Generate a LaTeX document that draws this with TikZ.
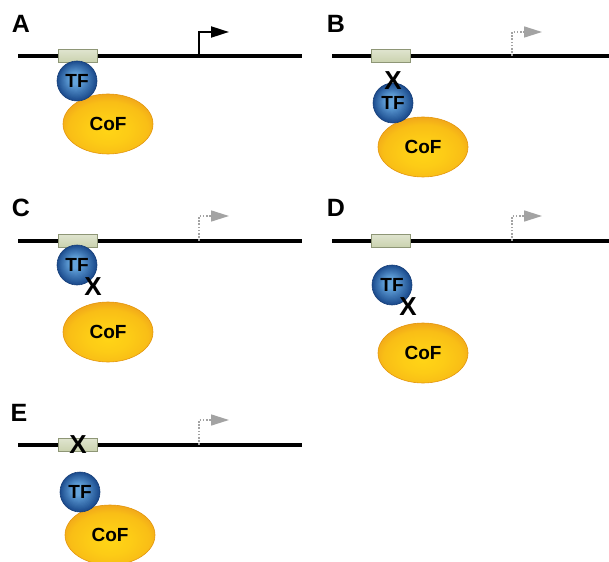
\documentclass[tikz,border=0pt]{standalone}
\usepackage{fontspec}
\setmainfont{Liberation Sans}
\usetikzlibrary{shapes.geometric,arrows.meta}
\definecolor{tfin}{HTML}{64A4DC}
\definecolor{tfout}{HTML}{1C4C8E}
\definecolor{tfedge}{HTML}{163E78}
\definecolor{cofin}{HTML}{FFD416}
\definecolor{cofmid}{HTML}{F9BE16}
\definecolor{cofout}{HTML}{EE9E1C}
\definecolor{cofedge}{HTML}{E3960E}
\definecolor{boxfill}{HTML}{CAD2AE}
\definecolor{boxedge}{HTML}{8E9676}
\definecolor{offgray}{HTML}{A3A3A3}
% soft gradient for the cofactor
\pgfdeclareradialshading{cofglow}{\pgfpoint{0bp}{-6bp}}{%
  color(0bp)=(cofin); color(12bp)=(cofin!60!cofmid); color(22bp)=(cofmid);
  color(30bp)=(cofout); color(50bp)=(cofout)}
\tikzset{
  dna/.style={line width=4pt, black},
  site/.style={rectangle, minimum width=39pt, minimum height=13pt, inner sep=0pt,
    top color=boxfill!60!white, bottom color=boxfill, draw=boxedge, line width=0.8pt},
  tf/.style={circle, minimum size=40pt, inner sep=0pt, fill=tfout},
  tfrim/.style={draw=tfedge, line width=0.6pt},
  tftext/.style={inner sep=0pt, text=black, font=\bfseries\fontsize{19}{19}\selectfont},
  cof/.style={ellipse, minimum width=90pt, minimum height=60pt, inner sep=0pt,
    shading=cofglow, draw=cofedge, line width=0.6pt, text=black,
    font=\bfseries\fontsize{19}{19}\selectfont},
  panellabel/.style={font=\bfseries\fontsize{25}{25}\selectfont, inner sep=0pt},
  block/.style={font=\bfseries\fontsize{26}{26}\selectfont, inner sep=0pt, text=black},
  promon/.style={line width=2pt, black, -{Triangle[length=18pt,width=11pt]}},
  promoff/.style={line width=1.6pt, offgray, dash pattern=on 1.6pt off 1.6pt,
    -{Triangle[length=18pt,width=11pt,fill=offgray]}},
}
% transcription factor: a ball built from nested discs, lighter towards the middle
\newcommand\drawtf[2]{%
  \node[tf] (#1) at (#2) {};
  \foreach \i [evaluate=\i as \p using {int(min(100,\i*7))},
               evaluate=\i as \r using {20-\i}] in {1,...,19}
    \fill[tfin!\p!tfout] ([shift={(-0.12*\i,-0.12*\i)}]#1.center) circle[radius=\r pt];
  \draw[tfrim] (#1.center) circle[radius=20pt];
  \node[tftext] (#1t) at (#1) {TF};
}
\begin{document}
\begin{tikzpicture}[x=1pt,y=-1pt]
\useasboundingbox (0,0) rectangle (609,561);
\clip (0,0) rectangle (609,561);

% Panel A: TF bound to its site, CoF recruited, promoter active
\begin{scope}
  \node[panellabel] (labA) at (21,24) {A};
  \coordinate (aL) at (18,56);
  \coordinate (aR) at (302,56);
  \draw[dna] (aL) -- (aR);
  \node[site] (aS) at (77.5,56) {};
  \coordinate (aP) at (199,56);
  \coordinate (aT) at (229,32);
  \draw[promon] (aP) |- (aT);
  \node[cof] (aC) at (108,124) {CoF};
  \drawtf{aF}{77,81}
\end{scope}

% Panel B: TF cannot bind DNA
\begin{scope}[shift={(313,0)}]
  \node[panellabel] (labB) at (23,24) {B};
  \coordinate (bL) at (19,56);
  \coordinate (bR) at (305,56);
  \draw[dna] (bL) -- (bR);
  \node[site] (bS) at (77.5,56) {};
  \coordinate (bP) at (199,56);
  \coordinate (bT) at (229,32);
  \draw[promoff] (bP) |- (bT);
  \node[cof] (bC) at (110,147) {CoF};
  \drawtf{bF}{80,103}
  \node[block] (bX) at (80,81) {X};
\end{scope}

% Panel C: TF bound, CoF interaction lost
\begin{scope}[shift={(0,185)}]
  \node[panellabel] (labC) at (21,23) {C};
  \coordinate (cL) at (18,56);
  \coordinate (cR) at (302,56);
  \draw[dna] (cL) -- (cR);
  \node[site] (cS) at (77.5,56) {};
  \coordinate (cP) at (199,56);
  \coordinate (cT) at (229,31);
  \draw[promoff] (cP) |- (cT);
  \node[cof] (cC) at (108,147) {CoF};
  \drawtf{cF}{77,80}
  \node[block] (cX) at (93,102) {X};
\end{scope}

% Panel D: neither DNA binding nor CoF interaction
\begin{scope}[shift={(313,185)}]
  \node[panellabel] (labD) at (23,23) {D};
  \coordinate (dL) at (19,56);
  \coordinate (dR) at (305,56);
  \draw[dna] (dL) -- (dR);
  \node[site] (dS) at (77.5,56) {};
  \coordinate (dP) at (199,56);
  \coordinate (dT) at (229,31);
  \draw[promoff] (dP) |- (dT);
  \node[cof] (dC) at (110,168) {CoF};
  \drawtf{dF}{79,100}
  \node[block] (dX) at (95,122) {X};
\end{scope}

% Panel E: binding site mutated
\begin{scope}[shift={(0,389)}]
  \node[panellabel] (labE) at (19,24) {E};
  \coordinate (eL) at (18,56);
  \coordinate (eR) at (302,56);
  \draw[dna] (eL) -- (eR);
  \node[site] (eS) at (77.5,56) {};
  \node[block] (eX) at (78,56) {X};
  \coordinate (eP) at (199,56);
  \coordinate (eT) at (229,31);
  \draw[promoff] (eP) |- (eT);
  \node[cof] (eC) at (110,146) {CoF};
  \drawtf{eF}{80,103}
\end{scope}
\end{tikzpicture}
\end{document}
